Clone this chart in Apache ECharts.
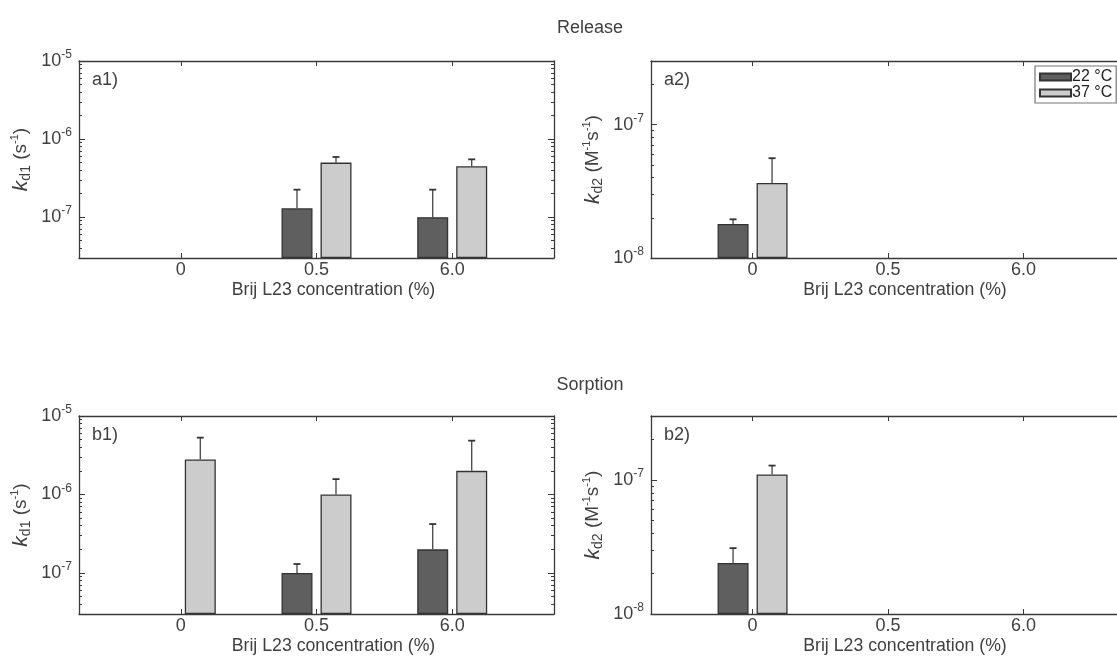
<!DOCTYPE html>
<html><head><meta charset="utf-8">
<script src="https://cdn.jsdelivr.net/npm/echarts@6/dist/echarts.min.js"></script>
<style>html,body{margin:0;padding:0;background:#fff}#c{width:1117px;height:659px}</style>
</head><body><div id="c"></div>
<script>
// ---------- data ----------
const categories = ['0', '0.5', '6.0'];
const seriesNames = ['22 °C', '37 °C'];
// Release, k_d1 (s^-1)
const a1_22 = [null, 1.3e-7, 1.0e-7];
const a1_22_err = [null, 2.25e-7, 2.25e-7];
const a1_37 = [null, 5.0e-7, 4.5e-7];
const a1_37_err = [null, 5.9e-7, 5.5e-7];
// Release, k_d2 (M^-1 s^-1)
const a2_22 = [1.8e-8, null, null];
const a2_22_err = [1.95e-8, null, null];
const a2_37 = [3.65e-8, null, null];
const a2_37_err = [5.6e-8, null, null];
// Sorption, k_d1 (s^-1)
const b1_22 = [null, 1.0e-7, 2.0e-7];
const b1_22_err = [null, 1.3e-7, 4.2e-7];
const b1_37 = [2.8e-6, 1.0e-6, 2.0e-6];
const b1_37_err = [5.3e-6, 1.57e-6, 4.85e-6];
// Sorption, k_d2 (M^-1 s^-1)
const b2_22 = [2.4e-8, null, null];
const b2_22_err = [3.1e-8, null, null];
const b2_37 = [1.1e-7, null, null];
const b2_37_err = [1.28e-7, null, null];
// axis ranges
const yRangeKd1 = [3e-8, 1e-5];
const yRangeKd2 = [1e-8, 3e-7];
const panelLabels = ['a1)', 'a2)', 'b1)', 'b2)'];
const sectionTitles = ['Release', 'Sorption'];
const xTitle = 'Brij L23 concentration (%)';

// ---------- styles ----------
const FONT = 'Liberation Sans';
const TXT = '#404040';
const AX = '#3a3a3a';
const colors = ['#5f5f5f', '#cccccc'];
const BAR_W = 31, BAR_GAP = 8;

const panels = [
  {grid: {left: 79, top: 61, width: 475, height: 197}, range: yRangeKd1, name: '{i|k}{sub|d1} (s{sup|-1})',
   data: [[a1_22, a1_22_err], [a1_37, a1_37_err]]},
  {grid: {left: 651, top: 61, width: 474, height: 197}, range: yRangeKd2, name: '{i|k}{sub|d2} (M{sup|-1}s{sup|-1})',
   data: [[a2_22, a2_22_err], [a2_37, a2_37_err]]},
  {grid: {left: 79, top: 416, width: 475, height: 198}, range: yRangeKd1, name: '{i|k}{sub|d1} (s{sup|-1})',
   data: [[b1_22, b1_22_err], [b1_37, b1_37_err]]},
  {grid: {left: 651, top: 416, width: 474, height: 198}, range: yRangeKd2, name: '{i|k}{sub|d2} (M{sup|-1}s{sup|-1})',
   data: [[b2_22, b2_22_err], [b2_37, b2_37_err]]}
];

const lg = Math.log10;
const grid = [], xAxis = [], yAxis = [], series = [];
const axisLine = {show: true, onZero: false, lineStyle: {color: AX, width: 1.3}};
const tickLine = {color: AX, width: 1};

panels.forEach((p, i) => {
  grid.push(Object.assign({outerBoundsMode: 'none', containLabel: false}, p.grid));
  const ymin = lg(p.range[0]), ymax = lg(p.range[1]);
  const majors = [], minors = [];
  for (let n = Math.floor(ymin); n <= Math.ceil(ymax); n++) {
    if (n >= ymin - 1e-9 && n <= ymax + 1e-9) majors.push(n);
    for (let k = 2; k <= 9; k++) {
      const v = n + lg(k);
      if (v > ymin && v < ymax) minors.push(v);
    }
  }
  const catIdx = categories.map((c, j) => j);
  // bottom x axis
  xAxis.push({
    gridIndex: i, type: 'value', min: -0.75, max: 2.75, position: 'bottom',
    axisLine: axisLine, splitLine: {show: false},
    axisTick: {show: true, inside: true, length: 5, customValues: catIdx, lineStyle: tickLine},
    axisLabel: {customValues: catIdx, formatter: v => categories[Math.round(v)], fontFamily: FONT, fontSize: 18, color: TXT, margin: 3},
    name: xTitle, nameLocation: 'middle', nameGap: 23,
    nameTextStyle: {fontFamily: FONT, fontSize: 17.7, color: TXT, verticalAlign: 'top', padding: [0, 0, 0, 34]}
  });
  // top x axis (ticks only)
  xAxis.push({
    gridIndex: i, type: 'value', min: -0.75, max: 2.75, position: 'top',
    axisLine: axisLine, splitLine: {show: false},
    axisTick: {show: true, inside: true, length: 5, customValues: catIdx, lineStyle: tickLine},
    axisLabel: {show: false}
  });
  const yBase = {gridIndex: i, type: 'value', min: ymin, max: ymax, splitLine: {show: false}};
  yAxis.push(Object.assign({}, yBase, {
    position: 'left', startValue: ymin, axisLine: axisLine,
    axisTick: {show: true, inside: true, length: 6, customValues: majors, lineStyle: tickLine},
    axisLabel: {customValues: majors, formatter: v => '10{s|' + Math.round(v) + '}', fontFamily: FONT, fontSize: 18,
      color: TXT, margin: 7, lineHeight: 24,
      rich: {s: {fontFamily: FONT, fontSize: 12, lineHeight: 12, verticalAlign: 'top', color: TXT}}},
    name: p.name, nameLocation: 'middle', nameGap: 46,
    nameTextStyle: {fontFamily: FONT, fontSize: 19, color: TXT, lineHeight: 24,
      rich: {
        i: {fontFamily: FONT, fontSize: 21, fontStyle: 'italic', color: TXT, lineHeight: 24},
        sub: {fontFamily: FONT, fontSize: 14, color: TXT, lineHeight: 14, verticalAlign: 'bottom'},
        sup: {fontFamily: FONT, fontSize: 11, color: TXT, lineHeight: 11, verticalAlign: 'top'}
      }}
  }));
  yAxis.push(Object.assign({}, yBase, {
    position: 'left', axisLine: {show: false, onZero: false},
    axisTick: {show: true, inside: true, length: 3, customValues: minors, lineStyle: tickLine},
    axisLabel: {show: false}
  }));
  yAxis.push(Object.assign({}, yBase, {
    position: 'right', axisLine: axisLine,
    axisTick: {show: true, inside: true, length: 6, customValues: majors, lineStyle: tickLine},
    axisLabel: {show: false}
  }));
  yAxis.push(Object.assign({}, yBase, {
    position: 'right', axisLine: {show: false, onZero: false},
    axisTick: {show: true, inside: true, length: 3, customValues: minors, lineStyle: tickLine},
    axisLabel: {show: false}
  }));

  p.data.forEach((pair, s) => {
    const vals = pair[0], errs = pair[1];
    const barData = [], errData = [];
    vals.forEach((v, j) => {
      if (v != null) {
        barData.push([j, lg(v)]);
        errData.push([j, lg(v), lg(errs[j])]);
      }
    });
    series.push({
      type: 'bar', name: seriesNames[s], xAxisIndex: 2 * i, yAxisIndex: 4 * i,
      data: barData, barWidth: BAR_W, barGap: (BAR_GAP / BAR_W * 100) + '%',
      itemStyle: {color: colors[s], borderColor: '#333', borderWidth: 1.3}, z: 2
    });
    const off = (s === 0 ? -1 : 1) * (BAR_W + BAR_GAP) / 2;
    series.push({
      type: 'custom', name: 'err' + i + s, xAxisIndex: 2 * i, yAxisIndex: 4 * i, z: 3,
      data: errData,
      renderItem: (params, api) => {
        const p0 = api.coord([api.value(0), api.value(1)]);
        const p1 = api.coord([api.value(0), api.value(2)]);
        const x = p0[0] + off;
        return {type: 'group', children: [
          {type: 'line', shape: {x1: x, y1: p0[1], x2: x, y2: p1[1]}, style: {stroke: '#444', lineWidth: 1.3}},
          {type: 'line', shape: {x1: x - 3.5, y1: p1[1], x2: x + 3.5, y2: p1[1]}, style: {stroke: '#333', lineWidth: 1.8}}
        ]};
      }
    });
  });
});

const graphic = [
  {type: 'text', x: 590, y: 28, style: {text: sectionTitles[0], fontFamily: FONT, fontSize: 18, fill: TXT, align: 'center', verticalAlign: 'middle'}},
  {type: 'text', x: 590, y: 385, style: {text: sectionTitles[1], fontFamily: FONT, fontSize: 18, fill: TXT, align: 'center', verticalAlign: 'middle'}}
];
panels.forEach((p, i) => {
  graphic.push({type: 'text', x: p.grid.left + 13, y: p.grid.top + 19,
    style: {text: panelLabels[i], fontFamily: FONT, fontSize: 18, fill: TXT, align: 'left', verticalAlign: 'middle'}});
});

const chart = echarts.init(document.getElementById('c'), null, {renderer: 'canvas'});
chart.setOption({
  animation: false,
  backgroundColor: '#fff',
  grid, xAxis, yAxis, series, graphic,
  legend: {
    data: seriesNames, orient: 'vertical', left: 1035, top: 66,
    itemWidth: 31, itemHeight: 7, itemGap: 0, icon: 'rect',
    padding: [3, 4, 2, 4], borderColor: '#777', borderWidth: 1.2, backgroundColor: '#fff',
    textStyle: {fontFamily: FONT, fontSize: 16, color: '#222', lineHeight: 12, padding: [0, 0, 0, -4]}
  }
});
</script></body></html>
